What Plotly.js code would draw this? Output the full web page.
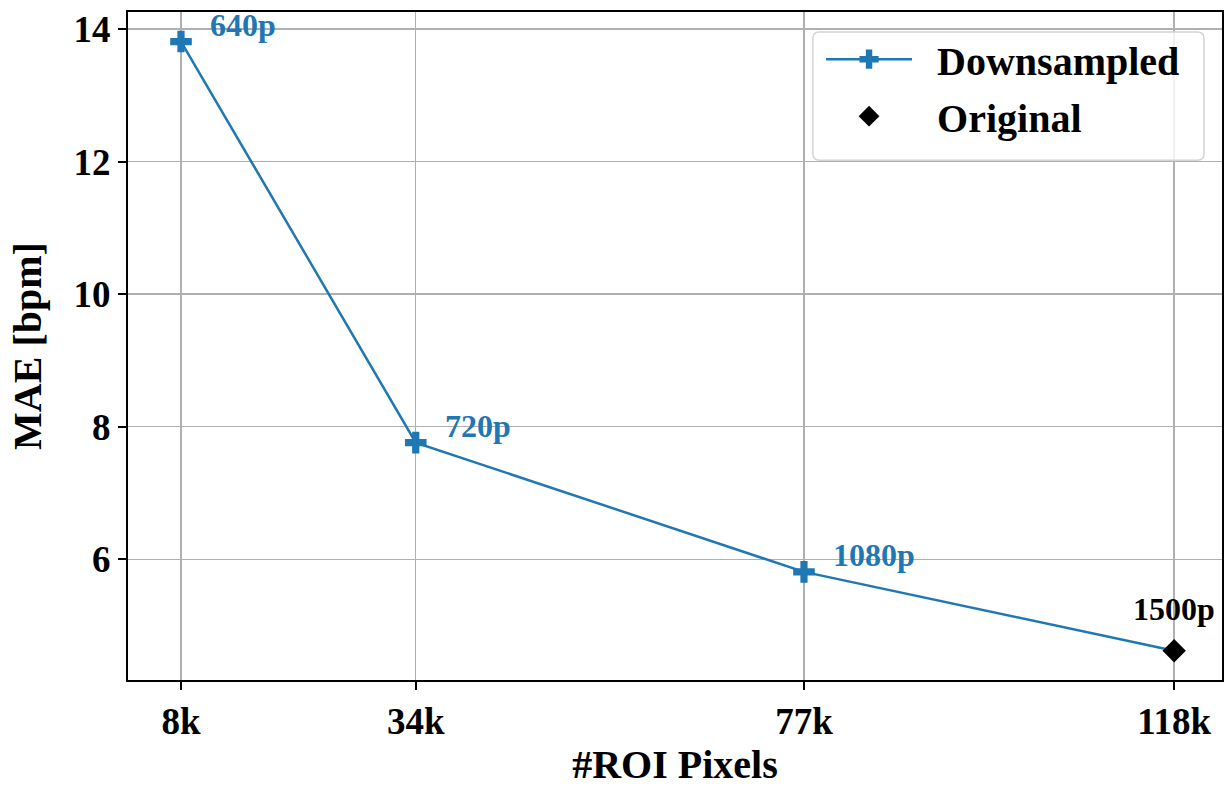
<!DOCTYPE html>
<html>
<head>
<meta charset="utf-8">
<script src="https://cdn.plot.ly/plotly-3.0.1.min.js"></script>
<style>
  html, body { margin: 0; padding: 0; background: #fff; }
  #chart { width: 1231px; height: 788px; }
</style>
</head>
<body>
<div id="chart"></div>
<script>
// ROI pixel counts (thousands) and their tick labels
const roiPixelsK = [8, 34, 77, 118];
const roiTickText = ['8k', '34k', '77k', '118k'];
// MAE of the downsampled videos (640p, 720p, 1080p)
const maeDownsampled = [13.81, 7.76, 5.81];
// MAE of the original-resolution video (1500p)
const maeOriginal = [4.62];
// Resolution labels for each point
const resolutionLabels = ['640p', '720p', '1080p', '1500p'];
const seriesNames = ['Downsampled', 'Original'];

const BLUE = '#1f77b4';
const SERIF = '"Liberation Serif", "Times New Roman", serif';
const GAP = '\u00a0\u00a0';

const nDown = maeDownsampled.length;
const xDown = roiPixelsK.slice(0, nDown);
const xOrig = roiPixelsK.slice(nDown);

const traces = [
  {
    // segment joining the last downsampled point to the original point
    x: [xDown[nDown - 1], xOrig[0]],
    y: [maeDownsampled[nDown - 1], maeOriginal[0]],
    mode: 'lines',
    line: { color: BLUE, width: 2.5 },
    showlegend: false,
    hoverinfo: 'skip'
  },
  {
    x: xDown,
    y: maeDownsampled,
    name: GAP + seriesNames[0],
    legendgroup: 'down',
    mode: 'lines+markers',
    line: { color: BLUE, width: 2.5 },
    marker: { symbol: 'cross', size: 18, color: BLUE }
  },
  {
    x: xOrig,
    y: maeOriginal,
    name: GAP + seriesNames[1],
    legendgroup: 'orig',
    mode: 'markers',
    marker: { symbol: 'diamond', size: 18, color: '#000' }
  }
];

const annotations = [];
xDown.forEach((x, i) => {
  annotations.push({
    x: x, y: maeDownsampled[i], xref: 'x', yref: 'y',
    text: resolutionLabels[i], showarrow: false,
    xanchor: 'left', yanchor: 'middle', xshift: 27, yshift: 17,
    font: { family: SERIF, size: 32, weight: 'bold', color: BLUE }
  });
});
xOrig.forEach((x, i) => {
  annotations.push({
    x: x, y: maeOriginal[i], xref: 'x', yref: 'y',
    text: resolutionLabels[nDown + i], showarrow: false,
    xanchor: 'center', yanchor: 'middle', yshift: 42,
    font: { family: SERIF, size: 32, weight: 'bold', color: '#000' }
  });
});

// rounded, translucent legend frame (paper coordinates)
function roundedRect(x0, y0, x1, y1, rx, ry) {
  return 'M' + (x0 + rx) + ',' + y1 +
    ' L' + (x1 - rx) + ',' + y1 + ' Q' + x1 + ',' + y1 + ' ' + x1 + ',' + (y1 - ry) +
    ' L' + x1 + ',' + (y0 + ry) + ' Q' + x1 + ',' + y0 + ' ' + (x1 - rx) + ',' + y0 +
    ' L' + (x0 + rx) + ',' + y0 + ' Q' + x0 + ',' + y0 + ' ' + x0 + ',' + (y0 + ry) +
    ' L' + x0 + ',' + (y1 - ry) + ' Q' + x0 + ',' + y1 + ' ' + (x0 + rx) + ',' + y1 + ' Z';
}

const axisCommon = {
  showline: true, mirror: true, linecolor: '#000', linewidth: 2,
  showgrid: true, gridcolor: '#b0b0b0', gridwidth: 1.5,
  zeroline: false,
  ticks: 'outside', ticklen: 8, tickwidth: 2, tickcolor: '#000',
  tickfont: { family: SERIF, size: 37, weight: 'bold', color: '#000' }
};

const layout = {
  width: 1231, height: 788,
  margin: { l: 128, r: 9, t: 12, b: 108 },
  paper_bgcolor: '#fff', plot_bgcolor: '#fff',
  showlegend: true,
  xaxis: Object.assign({}, axisCommon, {
    range: [2.13, 123.3],
    tickmode: 'array', tickvals: roiPixelsK, ticktext: roiTickText,
    title: { text: '#ROI Pixels', standoff: 6,
             font: { family: SERIF, size: 40, weight: 'bold', color: '#000' } }
  }),
  yaxis: Object.assign({}, axisCommon, {
    range: [4.179, 14.256],
    tickmode: 'array', tickvals: [6, 8, 10, 12, 14],
    title: { text: 'MAE [bpm]', standoff: 20,
             font: { family: SERIF, size: 40, weight: 'bold', color: '#000' } }
  }),
  shapes: [{
    type: 'path', xref: 'paper', yref: 'paper', layer: 'above',
    path: roundedRect(0.626, 0.778, 0.9835, 0.970, 0.006, 0.010),
    fillcolor: 'rgba(255,255,255,0.8)',
    line: { color: '#d4d4d4', width: 1.5 }
  }],
  legend: {
    x: 0.6335, y: 0.978, xanchor: 'left', yanchor: 'top',
    bgcolor: 'rgba(0,0,0,0)', borderwidth: 0,
    font: { family: SERIF, size: 40, weight: 'bold', color: '#000' },
    itemwidth: 86, traceorder: 'grouped', tracegroupgap: 2
  },
  annotations: annotations
};

Plotly.newPlot('chart', traces, layout, { displayModeBar: false, staticPlot: true });
</script>
</body>
</html>
